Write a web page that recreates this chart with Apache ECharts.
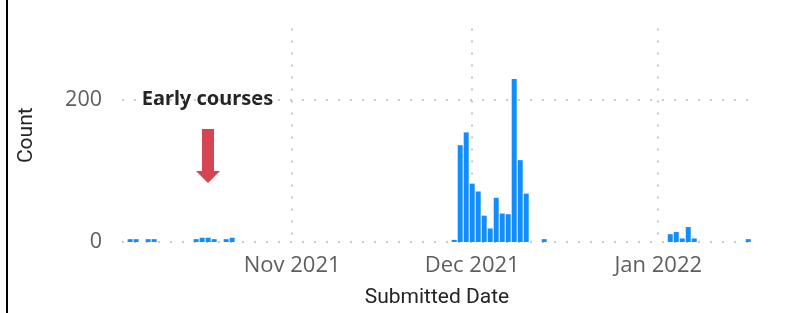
<!DOCTYPE html>
<html>
<head>
<meta charset="utf-8">
<script src="https://cdn.jsdelivr.net/npm/echarts@6/dist/echarts.min.js"></script>
<style>
  html, body { margin: 0; padding: 0; background: #fff; }
  #chart { width: 799px; height: 313px; }
</style>
</head>
<body>
<div id="chart"></div>
<script>
// submissions per day
const submitDates = [
	'2021-10-05', '2021-10-06', '2021-10-08', '2021-10-09', '2021-10-16',
	'2021-10-17', '2021-10-18', '2021-10-19', '2021-10-21', '2021-10-22',
	'2021-11-28', '2021-11-29', '2021-11-30', '2021-12-01', '2021-12-02',
	'2021-12-03', '2021-12-04', '2021-12-05', '2021-12-06', '2021-12-07',
	'2021-12-08', '2021-12-09', '2021-12-10', '2021-12-13',
	'2022-01-03', '2022-01-04', '2022-01-05', '2022-01-06', '2022-01-07',
	'2022-01-16'
];
const submitCounts = [
	4, 4, 4, 4, 4,
	6, 6, 4, 4, 6,
	3, 136, 154, 82, 71,
	37, 19, 62, 40, 39,
	229, 115, 68, 4,
	11, 14, 5, 21, 5,
	4
];

// x축 월 눈금
const monthTicks  = ['2021-11-01', '2021-12-01', '2022-01-01'];
const monthLabels = ['Nov 2021', 'Dec 2021', 'Jan 2022'];

// y축
const yTicks = [0, 200];

const axisStart = '2021-10-04 01:30';
const axisEnd   = '2022-01-16 05:00';

const labelColor = '#605E5C';
const titleColor = '#252423';
const gridColor  = '#CBC9C7';
const titleFont  = "Roboto, 'Liberation Sans', sans-serif";

function toTime(str) {
	const p = str.split(/[- :]/).map(Number);
	return new Date(p[0], p[1] - 1, p[2], p[3] || 0, p[4] || 0).getTime();
}

const monthTimes = monthTicks.map(toTime);

const seriesData = submitDates.map((d, i) => [toTime(d), submitCounts[i]]);

var myChart = echarts.init(document.getElementById('chart'));

var option = {
	animation: false,
	grid: {
		left: 122,
		right: 47,
		top: 28.5,
		bottom: 68.5
	},
	xAxis: {
		type: 'time',
		min: toTime(axisStart),
		max: toTime(axisEnd),
		minInterval: 28 * 86400000,
		name: 'Submitted Date',
		nameLocation: 'middle',
		nameGap: 45,
		nameTextStyle: {
			color: titleColor,
			fontFamily: titleFont,
			fontSize: 21
		},
		axisLine: { show: false },
		axisTick: { show: false },
		axisLabel: {
			showMinLabel: false,
			showMaxLabel: false,
			margin: 13,
			color: labelColor,
			fontFamily: "'Open Sans', sans-serif",
			fontSize: 22,
			formatter: function (value) {
				const idx = monthTimes.indexOf(value);
				return idx >= 0 ? monthLabels[idx] : '';
			}
		},
		splitLine: {
			show: true,
			showMinLine: false,
			showMaxLine: false,
			lineStyle: { color: gridColor, width: 2, type: [2, 10] }
		}
	},
	yAxis: {
		type: 'value',
		min: 0,
		max: 300,
		interval: 200,
		name: 'Count',
		nameLocation: 'middle',
		nameGap: 85,
		nameTextStyle: {
			color: titleColor,
			fontFamily: titleFont,
			fontSize: 21
		},
		axisLine: { show: false },
		axisTick: { show: false },
		axisLabel: {
			showMaxLabel: false,
			margin: 20,
			color: labelColor,
			fontFamily: "'Open Sans', sans-serif",
			fontSize: 21.5,
			formatter: function (value) {
				return yTicks.indexOf(value) >= 0 ? String(value) : '';
			}
		},
		splitLine: {
			show: true,
			showMaxLine: false,
			lineStyle: { color: gridColor, width: 2, type: [2, 10] }
		}
	},
	series: [
		{
			type: 'bar',
			barWidth: 5,
			itemStyle: { color: '#118DFF' },
			data: seriesData
		}
	],
	graphic: [
		// 왼쪽 테두리
		{
			type: 'rect',
			shape: { x: 6, y: 0, width: 2, height: 313 },
			style: { fill: '#000' }
		},
		// 주석 배경
		{
			type: 'rect',
			shape: { x: 112, y: 67, width: 189, height: 66 },
			style: { fill: '#fff' }
		},
		{
			type: 'text',
			x: 207.5,
			y: 99,
			style: {
				text: 'Early courses',
				fill: titleColor,
				font: "bold 20px 'Noto Sans', sans-serif",
				align: 'center',
				verticalAlign: 'middle'
			}
		},
		{
			type: 'polygon',
			shape: {
				points: [[202, 129], [214, 129], [214, 171], [220, 171], [208, 183], [196, 171], [202, 171]]
			},
			style: { fill: '#D64554' }
		}
	]
};

myChart.setOption(option);
</script>
</body>
</html>
